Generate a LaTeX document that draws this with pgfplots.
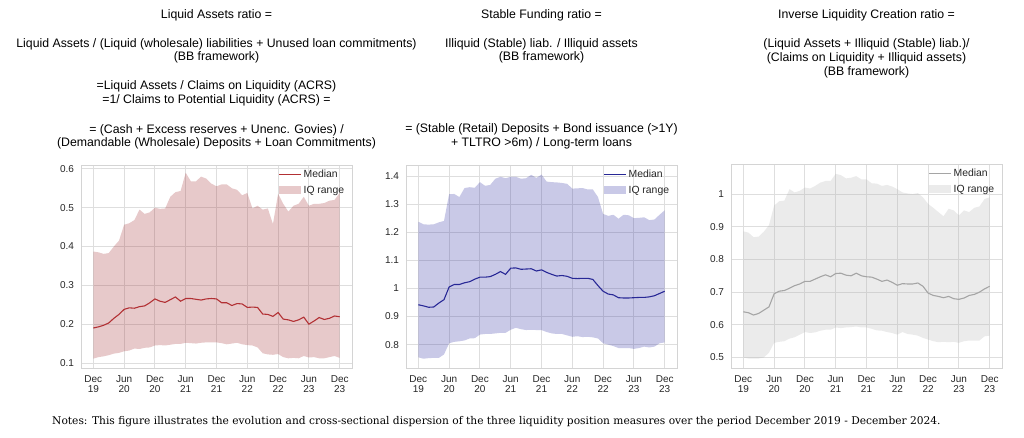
\documentclass[border=0pt]{standalone}
\usepackage{pgfplots}
\pgfplotsset{compat=1.18}
\usepackage{pgfplotstable}
\usepgfplotslibrary{fillbetween}
\usepackage{fontspec}
\setmainfont{Liberation Sans}
\newfontfamily\notesfont{DejaVu Serif}
\definecolor{gridc}{RGB}{222,222,222}
\definecolor{framec}{RGB}{212,212,212}
\definecolor{tickc}{RGB}{38,38,38}
\definecolor{redl}{RGB}{178,48,52}
\definecolor{redf}{RGB}{160,40,45}
\definecolor{bluel}{RGB}{40,40,150}
\definecolor{bluef}{RGB}{40,40,160}
\definecolor{grayl}{RGB}{165,165,165}
\definecolor{grayf}{RGB}{175,175,175}

\pgfplotstableread{
m med lo hi
0 0.190 0.111 0.387
1 0.193 0.115 0.385
2 0.197 0.117 0.381
3 0.203 0.120 0.383
4 0.215 0.124 0.400
5 0.225 0.126 0.415
6 0.238 0.130 0.456
7 0.242 0.132 0.460
8 0.241 0.137 0.468
9 0.245 0.136 0.495
10 0.247 0.139 0.484
11 0.255 0.140 0.488
12 0.265 0.145 0.500
13 0.259 0.146 0.497
14 0.256 0.145 0.498
15 0.263 0.147 0.528
16 0.270 0.149 0.540
17 0.259 0.149 0.543
18 0.266 0.152 0.590
19 0.266 0.151 0.568
20 0.264 0.150 0.568
21 0.262 0.152 0.580
22 0.265 0.153 0.575
23 0.266 0.153 0.562
24 0.265 0.153 0.555
25 0.255 0.151 0.560
26 0.255 0.148 0.560
27 0.248 0.150 0.550
28 0.253 0.152 0.546
29 0.252 0.148 0.532
30 0.243 0.146 0.538
31 0.244 0.145 0.498
32 0.243 0.140 0.505
33 0.226 0.125 0.495
34 0.225 0.122 0.498
35 0.220 0.121 0.458
36 0.230 0.123 0.536
37 0.213 0.115 0.510
38 0.211 0.112 0.490
39 0.207 0.113 0.505
40 0.211 0.112 0.510
41 0.218 0.118 0.528
42 0.200 0.114 0.505
43 0.208 0.115 0.510
44 0.217 0.112 0.510
45 0.212 0.112 0.512
46 0.215 0.115 0.518
47 0.221 0.118 0.520
48 0.219 0.113 0.538
}\tA

\pgfplotstableread{
m med lo hi
0 0.942 0.755 1.237
1 0.938 0.750 1.228
2 0.933 0.752 1.227
3 0.934 0.753 1.228
4 0.948 0.753 1.235
5 0.960 0.765 1.240
6 1.005 0.805 1.335
7 1.014 0.810 1.336
8 1.014 0.812 1.325
9 1.020 0.815 1.357
10 1.024 0.822 1.360
11 1.033 0.823 1.358
12 1.040 0.836 1.378
13 1.040 0.838 1.365
14 1.042 0.838 1.368
15 1.050 0.840 1.390
16 1.060 0.842 1.397
17 1.050 0.842 1.392
18 1.072 0.853 1.397
19 1.073 0.860 1.397
20 1.068 0.855 1.390
21 1.069 0.852 1.392
22 1.070 0.853 1.404
23 1.062 0.852 1.393
24 1.066 0.852 1.405
25 1.057 0.845 1.380
26 1.050 0.840 1.378
27 1.044 0.838 1.377
28 1.046 0.838 1.375
29 1.043 0.833 1.372
30 1.036 0.828 1.355
31 1.035 0.830 1.356
32 1.036 0.827 1.357
33 1.036 0.828 1.352
34 1.032 0.826 1.352
35 1.010 0.822 1.325
36 0.990 0.805 1.265
37 0.980 0.800 1.258
38 0.977 0.795 1.262
39 0.967 0.788 1.248
40 0.966 0.788 1.262
41 0.966 0.788 1.260
42 0.967 0.785 1.250
43 0.968 0.788 1.251
44 0.968 0.793 1.253
45 0.970 0.790 1.243
46 0.974 0.793 1.245
47 0.982 0.805 1.262
48 0.990 0.808 1.278
}\tB

\pgfplotstableread{
m med lo hi
0 0.640 0.500 0.886
1 0.637 0.497 0.882
2 0.630 0.497 0.868
3 0.635 0.497 0.870
4 0.645 0.500 0.885
5 0.655 0.515 0.905
6 0.695 0.545 0.965
7 0.703 0.548 0.978
8 0.705 0.550 0.980
9 0.712 0.558 1.015
10 0.720 0.562 1.005
11 0.725 0.570 1.010
12 0.733 0.578 1.020
13 0.733 0.575 1.017
14 0.740 0.577 1.025
15 0.747 0.582 1.035
16 0.753 0.585 1.040
17 0.747 0.585 1.040
18 0.757 0.592 1.062
19 0.758 0.590 1.058
20 0.752 0.592 1.048
21 0.750 0.593 1.050
22 0.758 0.595 1.055
23 0.750 0.592 1.045
24 0.747 0.592 1.045
25 0.746 0.588 1.033
26 0.740 0.583 1.032
27 0.733 0.582 1.025
28 0.737 0.578 1.028
29 0.730 0.575 1.023
30 0.721 0.570 1.015
31 0.726 0.578 1.005
32 0.725 0.572 1.002
33 0.725 0.570 1.000
34 0.728 0.567 1.003
35 0.718 0.560 0.990
36 0.697 0.555 0.970
37 0.690 0.550 0.958
38 0.687 0.547 0.945
39 0.683 0.548 0.932
40 0.687 0.547 0.955
41 0.680 0.548 0.950
42 0.678 0.545 0.935
43 0.682 0.550 0.950
44 0.690 0.552 0.945
45 0.693 0.552 0.958
46 0.700 0.552 0.962
47 0.710 0.565 0.985
48 0.718 0.567 0.990
}\tC

\pgfplotsset{
  liq/.style={
    scale only axis, width=271pt, height=203pt,
    xmin=-2.4, xmax=50.4,
    xtick={0,6,...,48},
    xticklabels={Dec\\19,Jun\\20,Dec\\20,Jun\\21,Dec\\21,Jun\\22,Dec\\22,Jun\\23,Dec\\23},
    xticklabel style={align=center, font=\fontsize{10}{10.5}\selectfont, text=tickc},
    yticklabel style={font=\fontsize{10}{10.5}\selectfont, text=tickc},
    xticklabel shift=4pt, yticklabel shift=3.5pt,
    major tick length=0pt,
    grid=major, major grid style={gridc, line width=0.9pt},
    axis line style={framec, line width=0.9pt},
    /pgf/number format/assume math mode=true,
    legend style={draw=none, fill=none, at={(0.99,0.995)}, anchor=north east,
      font=\fontsize{10.4}{11}\selectfont, row sep=2.5pt, text=tickc,
      nodes={inner sep=2pt}},
    legend cell align=left,
  },
}

\begin{document}
\begin{tikzpicture}
\begin{scope}[x=1pt,y=1pt]
\useasboundingbox (0,0) rectangle (1024,438);
\tikzset{tt/.style={anchor=base, inner sep=0pt, font=\fontsize{12.3}{13}\selectfont}}
\node[tt] at (216.5,419) {Liquid Assets ratio =};
\node[tt] at (216.5,390) {Liquid Assets / (Liquid (wholesale) liabilities + Unused loan commitments)};
\node[tt] at (216.5,377) {(BB framework)};
\node[tt] at (216.5,348) {=Liquid Assets / Claims on Liquidity (ACRS)};
\node[tt] at (216.5,334.5) {=1/ Claims to Potential Liquidity (ACRS) =};
\node[tt] at (216.5,304) {= (Cash + Excess reserves + Unenc. Govies) /};
\node[tt] at (216.5,291) {(Demandable (Wholesale) Deposits + Loan Commitments)};

\node[tt] at (541.5,419) {Stable Funding ratio =};
\node[tt] at (541.5,390) {Illiquid (Stable) liab. / Illiquid assets};
\node[tt] at (541.5,377) {(BB framework)};
\node[tt] at (541.5,305.5) {= (Stable (Retail) Deposits + Bond issuance (>1Y)};
\node[tt] at (541.5,291) {+ TLTRO >6m) / Long-term loans};

\node[tt] at (866.5,419) {Inverse Liquidity Creation ratio =};
\node[tt] at (866.5,390) {(Liquid Assets + Illiquid (Stable) liab.)/};
\node[tt] at (866.5,376) {(Claims on Liquidity + Illiquid assets)};
\node[tt] at (866.5,362) {(BB framework)};

\node[anchor=base west, inner sep=0pt, font=\notesfont\fontsize{10.65}{13}\selectfont] at (52,13)
  {Notes: This figure illustrates the evolution and cross-sectional dispersion of the three liquidity position measures over the period December 2019 - December 2024.};
\end{scope}

% panel 1
\begin{axis}[liq, at={(81pt,70pt)}, anchor=south west,
  ymin=0.087, ymax=0.61, ytick={0.1,0.2,...,0.6}]
\addplot[name path=hiA, draw=none, forget plot] table[x=m,y=hi]{\tA};
\addplot[name path=loA, draw=none, forget plot] table[x=m,y=lo]{\tA};
\addplot[fill=redf, fill opacity=0.25, draw=none, forget plot] fill between[of=hiA and loA];
\addplot[redl, line width=1.1pt, forget plot] table[x=m,y=med]{\tA};
\addlegendimage{legend image code/.code={\draw[redl, line width=1.1pt] (0pt,0pt) -- (22pt,0pt);}}
\addlegendentry{Median}
\addlegendimage{legend image code/.code={\path[draw=none, fill=redf, fill opacity=0.25] (0pt,-4pt) rectangle (22pt,4pt);}}
\addlegendentry{IQ range}
\end{axis}

% panel 2
\begin{axis}[liq, at={(406pt,70pt)}, anchor=south west,
  ymin=0.717, ymax=1.439, ytick={0.8,0.9,...,1.41}]
\addplot[name path=hiB, draw=none, forget plot] table[x=m,y=hi]{\tB};
\addplot[name path=loB, draw=none, forget plot] table[x=m,y=lo]{\tB};
\addplot[fill=bluef, fill opacity=0.25, draw=none, forget plot] fill between[of=hiB and loB];
\addplot[bluel, line width=1.1pt, forget plot] table[x=m,y=med]{\tB};
\addlegendimage{legend image code/.code={\draw[bluel, line width=1.1pt] (0pt,0pt) -- (22pt,0pt);}}
\addlegendentry{Median}
\addlegendimage{legend image code/.code={\path[draw=none, fill=bluef, fill opacity=0.25] (0pt,-4pt) rectangle (22pt,4pt);}}
\addlegendentry{IQ range}
\end{axis}

% panel 3
\begin{axis}[liq, at={(731pt,70pt)}, anchor=south west, height=204pt,
  ymin=0.468, ymax=1.092, ytick={0.5,0.6,...,1.01}]
\addplot[name path=hiC, draw=none, forget plot] table[x=m,y=hi]{\tC};
\addplot[name path=loC, draw=none, forget plot] table[x=m,y=lo]{\tC};
\addplot[fill=grayf, fill opacity=0.25, draw=none, forget plot] fill between[of=hiC and loC];
\addplot[grayl, line width=1.1pt, forget plot] table[x=m,y=med]{\tC};
\addlegendimage{legend image code/.code={\draw[grayl, line width=1.1pt] (0pt,0pt) -- (22pt,0pt);}}
\addlegendentry{Median}
\addlegendimage{legend image code/.code={\path[draw=none, fill=grayf, fill opacity=0.25] (0pt,-4pt) rectangle (22pt,4pt);}}
\addlegendentry{IQ range}
\end{axis}
\end{tikzpicture}
\end{document}
